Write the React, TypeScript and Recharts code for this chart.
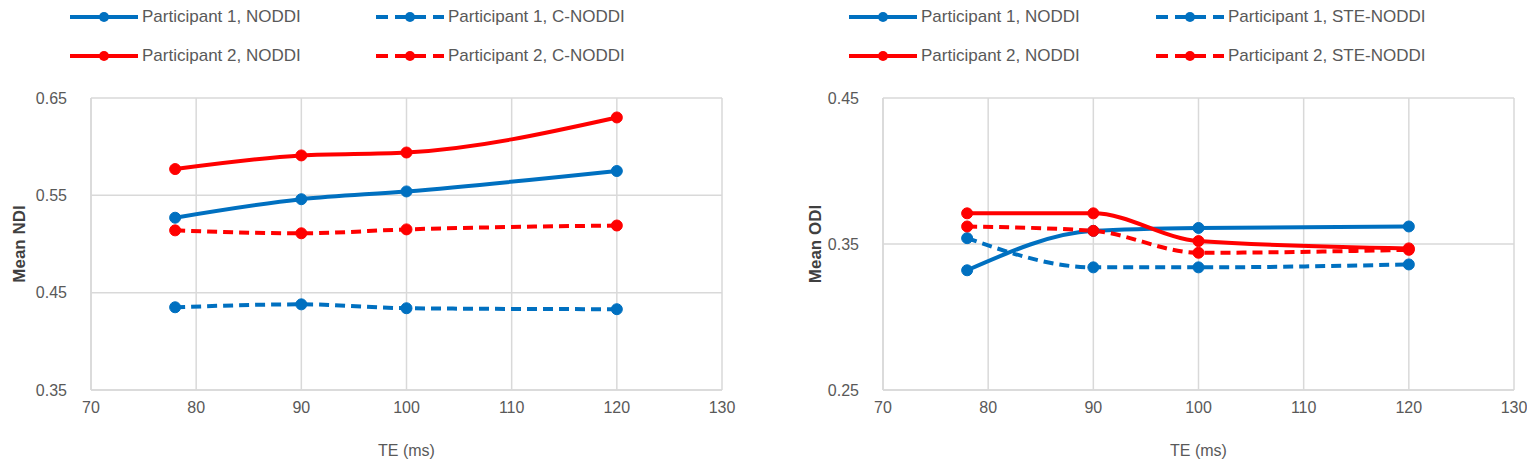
import React from "react";
import {
  LineChart,
  Line,
  XAxis,
  YAxis,
  CartesianGrid,
  Label,
} from "recharts";

const te = [78, 90, 100, 120];

// mean NDI (left panel)
const ndiP1Noddi = [0.527, 0.546, 0.554, 0.575];
const ndiP1CNoddi = [0.435, 0.438, 0.434, 0.433];
const ndiP2Noddi = [0.577, 0.591, 0.594, 0.63];
const ndiP2CNoddi = [0.514, 0.511, 0.515, 0.519];

// mean ODI (right panel)
const odiP1Noddi = [0.332, 0.359, 0.361, 0.362];
const odiP1SteNoddi = [0.354, 0.334, 0.334, 0.336];
const odiP2Noddi = [0.371, 0.371, 0.352, 0.347];
const odiP2SteNoddi = [0.362, 0.359, 0.344, 0.346];

const xTicks = [70, 80, 90, 100, 110, 120, 130];
const ndiTicks = [0.35, 0.45, 0.55, 0.65];
const odiTicks = [0.25, 0.35, 0.45];

const BLUE = "#0070c0";
const RED = "#ff0000";
const GRID = "#d9d9d9";
const TEXT = "#595959";
const FONT = "'Liberation Sans', Arial, sans-serif";

const toRows = (a: number[], b: number[], c: number[], d: number[]) =>
  te.map((x, i) => ({ te: x, p1: a[i], p1c: b[i], p2: c[i], p2c: d[i] }));

const ndiData = toRows(ndiP1Noddi, ndiP1CNoddi, ndiP2Noddi, ndiP2CNoddi);
const odiData = toRows(odiP1Noddi, odiP1SteNoddi, odiP2Noddi, odiP2SteNoddi);

const DASH = "10 6";

function LegendItem({
  x,
  y,
  color,
  dashed,
  label,
}: {
  x: number;
  y: number;
  color: string;
  dashed: boolean;
  label: string;
}) {
  return (
    <div
      style={{
        position: "absolute",
        left: x,
        top: y - 10,
        height: 20,
        display: "flex",
        alignItems: "center",
        fontFamily: FONT,
        fontSize: 17,
        color: TEXT,
        whiteSpace: "nowrap",
      }}
    >
      <svg width={72} height={20} style={{ marginRight: 2 }}>
        <line
          x1={2}
          y1={10}
          x2={70}
          y2={10}
          stroke={color}
          strokeWidth={4}
          strokeDasharray={dashed ? "12 7" : undefined}
        />
        <circle cx={36} cy={10} r={5} fill={color} />
      </svg>
      {label}
    </div>
  );
}

function Panel({
  data,
  yTicks,
  yDomain,
  yTitle,
  altName,
  plotLeft,
  plotRight,
  titleX,
  legendX,
  legendX2,
}: {
  data: any[];
  yTicks: number[];
  yDomain: [number, number];
  yTitle: string;
  altName: string;
  plotLeft: number;
  plotRight: number;
  titleX: number;
  legendX: number;
  legendX2: number;
}) {
  const W = 767;
  const H = 469;
  const series = [
    { key: "p1", color: BLUE, dashed: false, name: "Participant 1, NODDI" },
    { key: "p1c", color: BLUE, dashed: true, name: `Participant 1, ${altName}` },
    { key: "p2", color: RED, dashed: false, name: "Participant 2, NODDI" },
    { key: "p2c", color: RED, dashed: true, name: `Participant 2, ${altName}` },
  ];
  return (
    <div style={{ position: "relative", width: W, height: H }}>
      <LegendItem x={legendX} y={17} color={BLUE} dashed={false} label={series[0].name} />
      <LegendItem x={legendX2} y={17} color={BLUE} dashed label={series[1].name} />
      <LegendItem x={legendX} y={56} color={RED} dashed={false} label={series[2].name} />
      <LegendItem x={legendX2} y={56} color={RED} dashed label={series[3].name} />
      <LineChart
        width={W}
        height={H}
        data={data}
        margin={{ top: 98, right: W - plotRight, bottom: 19, left: titleX - 10 }}
        style={{ position: "absolute", left: 0, top: 0 }}
      >
        <CartesianGrid stroke={GRID} strokeWidth={1.5} />
        <XAxis
          dataKey="te"
          type="number"
          domain={[70, 130]}
          ticks={xTicks}
          stroke={GRID}
          strokeWidth={1.5}
          tickLine={false}
          height={60}
          tick={{ fill: TEXT, fontSize: 16, fontFamily: FONT }}
          tickMargin={6}
        >
          <Label
            value="TE (ms)"
            position="insideBottom"
            offset={-6}
            style={{ fill: TEXT, fontSize: 16, fontFamily: FONT }}
          />
        </XAxis>
        <YAxis
          type="number"
          domain={yDomain}
          ticks={yTicks}
          stroke={GRID}
          strokeWidth={1.5}
          tickLine={false}
          width={plotLeft - (titleX - 10)}
          tick={{ fill: TEXT, fontSize: 16, fontFamily: FONT }}
          tickMargin={18}
          tickFormatter={(v: number) => v.toFixed(2)}
        >
          <Label
            value={yTitle}
            angle={-90}
            position="insideLeft"
            offset={12}
            style={{
              fill: "#404040",
              fontSize: 17,
              fontWeight: "bold",
              fontFamily: FONT,
              textAnchor: "middle",
            }}
          />
        </YAxis>
        {series.map((s) => (
          <Line
            key={s.key}
            dataKey={s.key}
            type="monotone"
            stroke={s.color}
            strokeWidth={4}
            strokeDasharray={s.dashed ? DASH : undefined}
            dot={{ r: 5.5, fill: s.color, stroke: s.color, strokeWidth: 1, strokeDasharray: "" }}
            isAnimationActive={false}
          />
        ))}
      </LineChart>
    </div>
  );
}

export default function App() {
  return (
    <div style={{ margin: -8, width: 1535, height: 469, background: "#fff", display: "flex" }}>
      <Panel
        data={ndiData}
        yTicks={ndiTicks}
        yDomain={[0.35, 0.65]}
        yTitle="Mean NDI"
        altName="C-NODDI"
        plotLeft={91}
        plotRight={722}
        titleX={17}
        legendX={68}
        legendX2={374}
      />
      <div style={{ width: 1 }} />
      <Panel
        data={odiData}
        yTicks={odiTicks}
        yDomain={[0.25, 0.45]}
        yTitle="Mean ODI"
        altName="STE-NODDI"
        plotLeft={883 - 768}
        plotRight={1514 - 768}
        titleX={813 - 768}
        legendX={847 - 768}
        legendX2={1154 - 768}
      />
    </div>
  );
}
